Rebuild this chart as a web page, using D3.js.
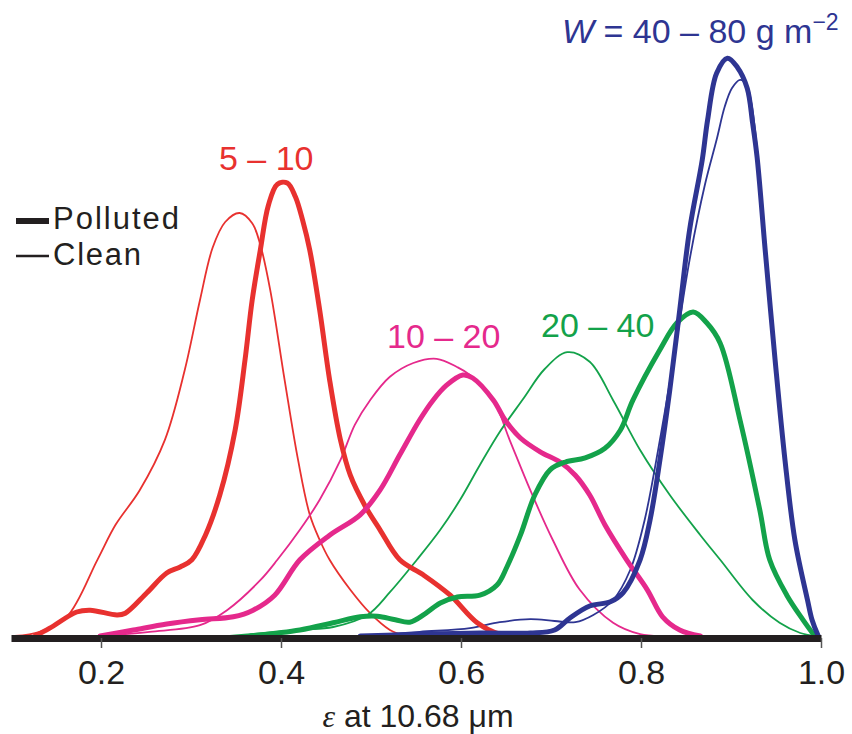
<!DOCTYPE html>
<html><head><meta charset="utf-8">
<script src="https://cdn.jsdelivr.net/npm/d3@7"></script>
<style>html,body{margin:0;padding:0;background:#fff;}svg{display:block;}</style>
</head><body>
<script>
// ε at 10.68 µm vs relative frequency (arbitrary units)
const xTicks = [0.2, 0.4, 0.6, 0.8, 1.0];
const xTickLabels = ["0.2", "0.4", "0.6", "0.8", "1.0"];
const seriesNames = ["5 – 10", "10 – 20", "20 – 40", "40 – 80"];
const seriesColors = ["#e8312f", "#e5298c", "#13a24a", "#2e3592"];

const red_polluted = [[0.127,0],[0.143,0.13],[0.173,0.40],[0.188,0.43],[0.218,0.35],[0.227,0.38],[0.251,0.72],[0.273,1.05],[0.288,1.15],[0.301,1.27],[0.316,1.68],[0.332,2.35],[0.349,3.43],[0.360,4.60],[0.368,5.60],[0.377,6.43],[0.386,7.18],[0.396,7.53],[0.407,7.55],[0.416,7.32],[0.424,6.93],[0.432,6.43],[0.443,5.43],[0.454,4.27],[0.466,3.27],[0.477,2.68],[0.493,2.18],[0.510,1.77],[0.532,1.27],[0.558,1.02],[0.588,0.68],[0.618,0.22],[0.643,0.03],[0.660,0]];
const red_clean = [[0.104,0],[0.132,0.07],[0.162,0.32],[0.196,1.27],[0.216,1.85],[0.243,2.43],[0.271,3.27],[0.293,4.43],[0.310,5.60],[0.324,6.47],[0.338,6.90],[0.354,7.05],[0.368,6.88],[0.377,6.52],[0.388,5.77],[0.404,4.27],[0.419,2.93],[0.432,2.02],[0.443,1.60],[0.454,1.27],[0.477,0.77],[0.499,0.38],[0.521,0.10],[0.538,0]];
const magenta_polluted = [[0.199,0],[0.236,0.10],[0.273,0.20],[0.310,0.27],[0.347,0.32],[0.369,0.43],[0.393,0.68],[0.421,1.27],[0.454,1.68],[0.488,2.02],[0.510,2.43],[0.532,3.02],[0.554,3.60],[0.569,3.93],[0.584,4.18],[0.602,4.35],[0.613,4.30],[0.636,3.93],[0.649,3.60],[0.666,3.30],[0.688,3.07],[0.710,2.90],[0.727,2.68],[0.743,2.35],[0.760,1.85],[0.784,1.27],[0.807,0.77],[0.824,0.32],[0.843,0.10],[0.866,0]];
const magenta_clean = [[0.199,0],[0.254,0.07],[0.310,0.18],[0.340,0.43],[0.377,0.93],[0.396,1.27],[0.421,1.77],[0.443,2.27],[0.466,2.93],[0.482,3.52],[0.499,3.93],[0.521,4.32],[0.547,4.55],[0.573,4.62],[0.596,4.48],[0.610,4.35],[0.636,3.93],[0.654,3.27],[0.677,2.43],[0.702,1.60],[0.732,0.77],[0.769,0.22],[0.799,0.03],[0.821,0]];
const green_polluted = [[0.366,0],[0.421,0.10],[0.458,0.22],[0.488,0.32],[0.507,0.33],[0.527,0.27],[0.543,0.23],[0.560,0.37],[0.577,0.55],[0.596,0.65],[0.621,0.68],[0.640,0.85],[0.651,1.15],[0.666,1.68],[0.682,2.35],[0.699,2.77],[0.716,2.90],[0.738,2.97],[0.760,3.13],[0.777,3.43],[0.791,3.93],[0.821,4.77],[0.840,5.22],[0.858,5.40],[0.873,5.22],[0.888,4.88],[0.910,3.60],[0.932,2.10],[0.943,1.27],[0.962,0.68],[0.980,0.27],[0.993,0]];
const green_clean = [[0.343,0],[0.421,0.10],[0.458,0.15],[0.496,0.35],[0.521,0.73],[0.551,1.27],[0.577,1.77],[0.599,2.27],[0.621,2.85],[0.643,3.40],[0.669,3.95],[0.693,4.45],[0.718,4.73],[0.743,4.57],[0.769,3.93],[0.799,3.10],[0.832,2.35],[0.866,1.68],[0.888,1.27],[0.924,0.60],[0.954,0.22],[0.977,0.05],[0.993,0]];
const blue_polluted = [[0.488,0],[0.554,0.03],[0.621,0.05],[0.677,0.05],[0.704,0.10],[0.721,0.30],[0.743,0.50],[0.766,0.57],[0.780,0.72],[0.799,1.27],[0.810,1.93],[0.821,2.93],[0.832,4.10],[0.843,5.43],[0.854,6.77],[0.868,7.93],[0.874,8.60],[0.884,9.38],[0.896,9.63],[0.907,9.48],[0.918,9.13],[0.924,8.55],[0.929,7.98],[0.938,6.43],[0.949,4.60],[0.960,2.93],[0.971,1.60],[0.985,0.60],[0.990,0.27],[0.997,0]];
const blue_clean = [[0.488,0],[0.554,0.07],[0.610,0.13],[0.643,0.23],[0.677,0.28],[0.704,0.25],[0.727,0.23],[0.747,0.35],[0.769,0.60],[0.788,1.10],[0.804,1.93],[0.821,3.27],[0.838,4.77],[0.854,6.27],[0.871,7.52],[0.884,8.27],[0.893,8.82],[0.901,9.13],[0.910,9.27],[0.917,9.20],[0.923,8.85],[0.929,8.10],[0.938,6.43],[0.949,4.60],[0.960,2.93],[0.971,1.60],[0.985,0.60],[0.990,0.27],[0.997,0]];

const W = 852, H = 734;
const svg = d3.select("body").append("svg").attr("width", W).attr("height", H);
const x = d3.scaleLinear().domain([0.1, 1.0]).range([11, 821]);
const y = d3.scaleLinear().domain([0, 10]).range([636, 36]);
const line = d3.line().x(d => x(d[0])).y(d => y(d[1])).curve(d3.curveCatmullRom.alpha(0.5));

const curves = [
  {data: red_clean, c: 0, w: 1.8},
  {data: magenta_clean, c: 1, w: 1.8},
  {data: green_clean, c: 2, w: 1.8},
  {data: blue_clean, c: 3, w: 1.8},
  {data: red_polluted, c: 0, w: 5},
  {data: magenta_polluted, c: 1, w: 5},
  {data: green_polluted, c: 2, w: 5},
  {data: blue_polluted, c: 3, w: 5},
];
svg.append("g").selectAll("path").data(curves).join("path")
  .attr("d", d => line(d.data)).attr("fill", "none")
  .attr("stroke", d => seriesColors[d.c]).attr("stroke-width", d => d.w)
  .attr("stroke-linejoin", "round").attr("stroke-linecap", "round");

// axis
const font = "Liberation Sans, Arial, sans-serif";
const ax = svg.append("g").attr("transform", "translate(0,638)");
const axis = d3.axisBottom(x).tickValues(xTicks).tickFormat((d, i) => xTickLabels[i]).tickSize(10).tickSizeOuter(0);
ax.call(axis);
ax.select(".domain").attr("stroke", "#231f20").attr("stroke-width", 7);
ax.selectAll(".tick line").attr("stroke", "#555").attr("stroke-width", 1.5);
ax.selectAll(".tick text").attr("font-family", font).attr("font-size", 34).attr("fill", "#231f20").attr("dy", null).attr("y", 46);

const title = svg.append("text").attr("x", 418).attr("y", 727).attr("text-anchor", "middle")
  .attr("font-family", font).attr("font-size", 32).attr("fill", "#231f20");
title.append("tspan").attr("font-family", "Liberation Serif, serif").attr("font-style", "italic").text("ε");
title.append("tspan").text(" at 10.68 μm");

// legend
svg.append("line").attr("x1", 16).attr("x2", 49).attr("y1", 221).attr("y2", 221).attr("stroke", "#231f20").attr("stroke-width", 6);
svg.append("line").attr("x1", 16).attr("x2", 49).attr("y1", 256).attr("y2", 256).attr("stroke", "#231f20").attr("stroke-width", 2.5);
svg.append("text").attr("x", 53).attr("y", 229).attr("font-family", font).attr("font-size", 31).attr("textLength", 126).attr("fill", "#231f20").text("Polluted");
svg.append("text").attr("x", 53).attr("y", 265).attr("font-family", font).attr("font-size", 31).attr("textLength", 88).attr("fill", "#231f20").text("Clean");

// series labels
svg.append("text").attr("x", 219).attr("y", 170).attr("font-family", font).attr("font-size", 34).attr("fill", seriesColors[0]).text(seriesNames[0]);
svg.append("text").attr("x", 387).attr("y", 348).attr("font-family", font).attr("font-size", 34).attr("fill", seriesColors[1]).text(seriesNames[1]);
svg.append("text").attr("x", 541).attr("y", 337).attr("font-family", font).attr("font-size", 34).attr("fill", seriesColors[2]).text(seriesNames[2]);
const wl = svg.append("text").attr("x", 562).attr("y", 43).attr("font-family", font).attr("font-size", 34).attr("fill", seriesColors[3]);
wl.append("tspan").attr("font-style", "italic").text("W");
wl.append("tspan").text(" = " + seriesNames[3] + " g m");
wl.append("tspan").attr("font-size", 23).attr("dy", -13).text("−2");
</script>
</body></html>
